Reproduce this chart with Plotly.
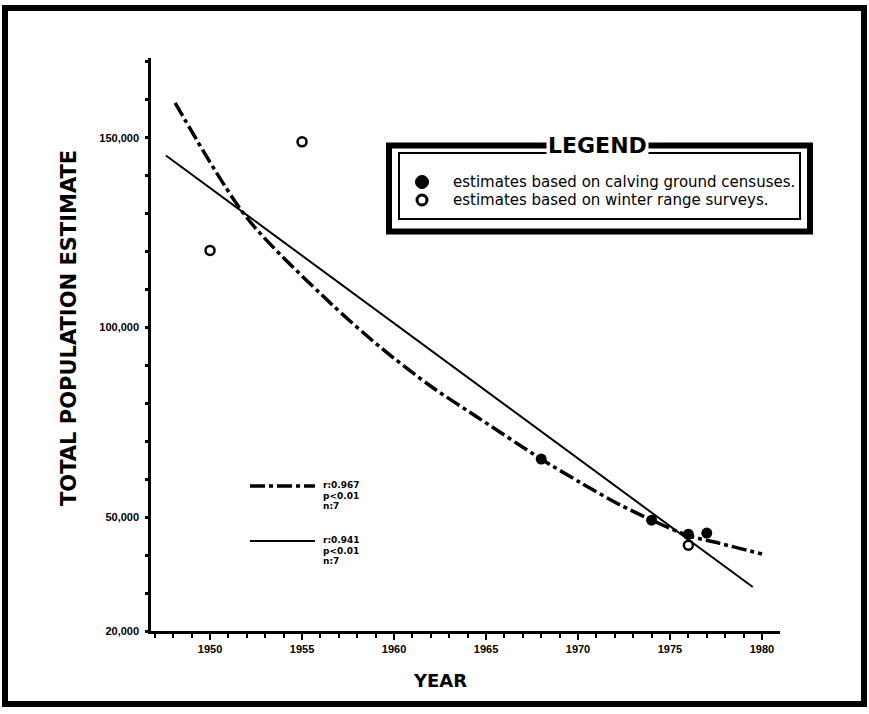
import plotly.graph_objects as go

# ---- data -------------------------------------------------------------
calving_years = [1968, 1974, 1976, 1977]
calving_counts = [65300, 49200, 45500, 45800]

winter_years = [1950, 1955, 1976]
winter_counts = [120300, 148900, 42600]

# fitted curves (dash-dot: curvilinear fit, solid: linear fit)
curve_years = [1948.1, 1952.0, 1956.5, 1959.4, 1962.0, 1964.7, 1968.0,
               1970.1, 1972.3, 1975.9, 1977.7, 1980.0]
curve_counts = [159200, 128900, 106600, 94200, 84500, 75800, 65300,
                59200, 53200, 45300, 43100, 40300]

line_years = [1947.6, 1979.5]
line_counts = [145300, 31600]

x_tick_vals = [1950, 1955, 1960, 1965, 1970, 1975, 1980]
x_tick_text = ["1950", "1955", "1960", "1965", "1970", "1975", "1980"]

y_tick_vals = list(range(20000, 170001, 10000))
y_labels = {20000: "20,000", 50000: "50,000", 100000: "100,000", 150000: "150,000"}
y_tick_text = [y_labels.get(v, "") for v in y_tick_vals]

fit_stats_curve = ["r:0.967", "p<0.01", "n:7"]
fit_stats_line = ["r:0.941", "p<0.01", "n:7"]

legend_labels = ["estimates based on calving ground censuses.",
                 "estimates based on winter range surveys."]

# ---- layout geometry (pixels) ----------------------------------------
W, H = 869, 714
L, R, T, B = 151, 89, 58, 83
PW, PH = W - L - R, H - T - B


def px(xp):
    return (xp - L) / PW


def py(yp):
    return (H - B - yp) / PH


DASHDOT = "15px,4px,4px,4px"
TICK_FONT = dict(family="Liberation Sans, Arial, sans-serif", size=11,
                 color="black", weight="bold")
BOLD = "DejaVu Sans, sans-serif"

fig = go.Figure()

fig.add_trace(go.Scatter(
    x=curve_years, y=curve_counts, mode="lines",
    line=dict(color="black", width=3.5, dash=DASHDOT, shape="spline",
              smoothing=0.8),
    showlegend=False, hoverinfo="skip"))

fig.add_trace(go.Scatter(
    x=line_years, y=line_counts, mode="lines",
    line=dict(color="black", width=2),
    showlegend=False, hoverinfo="skip"))

fig.add_trace(go.Scatter(
    x=calving_years, y=calving_counts, mode="markers",
    name=legend_labels[0],
    marker=dict(symbol="circle", size=11, color="black"),
    showlegend=False))

fig.add_trace(go.Scatter(
    x=winter_years, y=winter_counts, mode="markers",
    name=legend_labels[1],
    marker=dict(symbol="circle-open", size=9, color="black",
                line=dict(width=2.5, color="black")),
    showlegend=False))

shapes = []
# outer page frame
shapes.append(dict(type="rect", xref="paper", yref="paper",
                   x0=px(5), x1=px(864), y0=py(8), y1=py(704),
                   line=dict(color="black", width=6)))
# legend box: thick outer and thin inner border
shapes.append(dict(type="rect", xref="paper", yref="paper",
                   x0=px(389), x1=px(810), y0=py(145.5), y1=py(231.5),
                   line=dict(color="black", width=6)))
shapes.append(dict(type="rect", xref="paper", yref="paper",
                   x0=px(399), x1=px(800), y0=py(153), y1=py(219),
                   line=dict(color="black", width=2)))
# legend symbols
shapes.append(dict(type="circle", xref="paper", yref="paper",
                   x0=px(415.5), x1=px(428.5), y0=py(175.5), y1=py(188.5),
                   fillcolor="black", line=dict(color="black", width=1)))
shapes.append(dict(type="circle", xref="paper", yref="paper",
                   x0=px(417), x1=px(427), y0=py(195), y1=py(205),
                   fillcolor="white", line=dict(color="black", width=3)))
# fit-line key samples
shapes.append(dict(type="line", xref="paper", yref="paper",
                   x0=px(250), x1=px(315), y0=py(486), y1=py(486),
                   line=dict(color="black", width=3.5, dash=DASHDOT)))
shapes.append(dict(type="line", xref="paper", yref="paper",
                   x0=px(250), x1=px(315), y0=py(541), y1=py(541),
                   line=dict(color="black", width=2)))


def note(text, xp, yp, font, xanchor="center", **kw):
    return dict(text=text, xref="paper", yref="paper", x=px(xp), y=py(yp),
                xanchor=xanchor, yanchor="middle", showarrow=False,
                font=font, **kw)


annotations = []
annotations.append(note("YEAR", 440, 680,
                        dict(family=BOLD, size=18, color="black",
                             weight="bold")))
annotations.append(note("TOTAL POPULATION ESTIMATE", 69, 328,
                        dict(family=BOLD, size=21, color="black",
                             weight="bold"), textangle=-90))
annotations.append(note("LEGEND", 597, 145,
                        dict(family=BOLD, size=22, color="black",
                             weight="bold"),
                        bgcolor="white", borderpad=1))
for label, yp in zip(legend_labels, [182, 200]):
    annotations.append(note(label, 451, yp,
                            dict(family="DejaVu Sans, sans-serif", size=15,
                                 color="black"), xanchor="left"))
for stats, y0 in [(fit_stats_curve, 485), (fit_stats_line, 540)]:
    for i, s in enumerate(stats):
        annotations.append(note(s, 321, y0 + 10.5 * i,
                                dict(family=BOLD, size=9, color="black",
                                     weight="bold"), xanchor="left"))

fig.update_layout(
    width=W, height=H,
    margin=dict(l=L, r=R, t=T, b=B),
    paper_bgcolor="white", plot_bgcolor="white",
    showlegend=False,
    shapes=shapes, annotations=annotations,
    xaxis=dict(range=[1946.79, 1980.98], showgrid=False, zeroline=False,
               showline=True, linecolor="black", linewidth=2.5,
               tickmode="array", tickvals=x_tick_vals, ticktext=x_tick_text,
               ticks="outside", ticklen=6, tickwidth=2, tickcolor="black",
               minor=dict(tickmode="linear", tick0=1947, dtick=1,
                          ticks="outside", ticklen=4, tickwidth=1.5,
                          tickcolor="black"),
               tickfont=TICK_FONT),
    yaxis=dict(range=[20000, 171000], showgrid=False, zeroline=False,
               showline=True, linecolor="black", linewidth=2.5,
               tickmode="array", tickvals=y_tick_vals, ticktext=y_tick_text,
               ticks="outside", ticklen=3, tickwidth=2.5, tickcolor="black",
               ticklabelstandoff=4, tickfont=TICK_FONT),
)

fig.write_html("out.html")
